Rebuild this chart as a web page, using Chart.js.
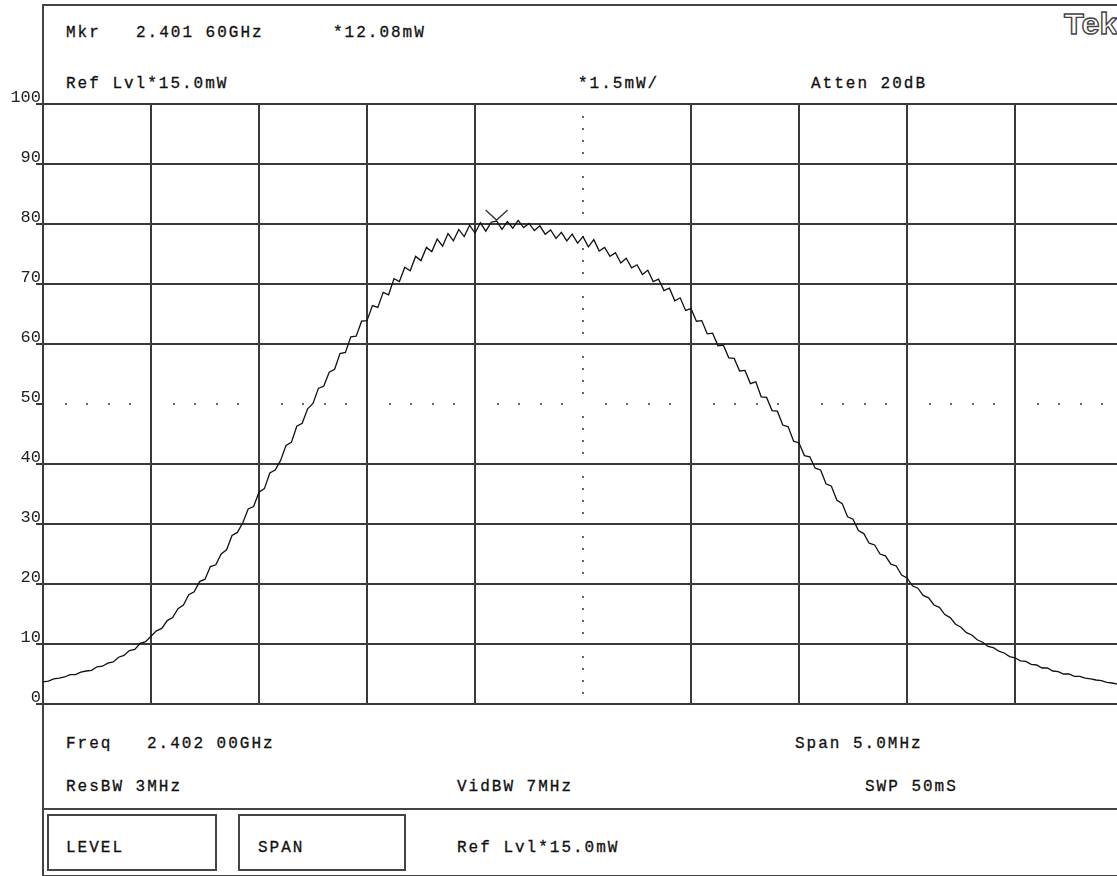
<!DOCTYPE html>
<html lang="en">
<head>
    <meta charset="UTF-8">
    <title>Tek spectrum</title>
    <style>
        html, body { margin: 0; padding: 0; background: #fff; overflow: hidden; }
        body { width: 1117px; height: 876px; position: relative; }
        .frame { position: absolute; left: 42px; top: 4px; width: 1200px; height: 869px; border: 2px solid #444; border-right: none; }
        .sep { position: absolute; left: 43px; top: 808px; width: 1200px; height: 2px; background: #444; }
        .box { position: absolute; top: 814px; height: 53px; border: 2px solid #444; }
        .txt { position: absolute; font-family: "Liberation Mono", monospace; font-size: 16px; line-height: 16px; letter-spacing: 2px; color: #111; -webkit-text-stroke: 0.3px #111; white-space: pre; }
        .tek { position: absolute; left: 1064px; top: 9px; font-family: "Liberation Sans", sans-serif; font-weight: bold; font-size: 30px; line-height: 30px; color: #fff; -webkit-text-stroke: 1.3px #444; transform: scaleX(1.08); transform-origin: left top; }
        #wrap { position: absolute; left: 0; top: 0; width: 1140px; height: 720px; }
    </style>
</head>
<body>
    <div class="frame"></div>
    <div class="sep"></div>
    <div class="box" style="left:47px; width:166px;"></div>
    <div class="box" style="left:238px; width:164px;"></div>

    <div class="txt" style="left:66px; top:25px;">Mkr</div>
    <div class="txt" style="left:136px; top:25px;">2.401 60GHz</div>
    <div class="txt" style="left:333px; top:25px;">*12.08mW</div>
    <div class="txt" style="left:66px; top:76px;">Ref Lvl*15.0mW</div>
    <div class="txt" style="left:578px; top:76px;">*1.5mW/</div>
    <div class="txt" style="left:811px; top:76px;">Atten 20dB</div>
    <div class="tek">Tek</div>

    <div class="txt" style="left:66px; top:736px;">Freq</div>
    <div class="txt" style="left:147px; top:736px;">2.402 00GHz</div>
    <div class="txt" style="left:795px; top:736px;">Span 5.0MHz</div>
    <div class="txt" style="left:66px; top:779px;">ResBW 3MHz</div>
    <div class="txt" style="left:457px; top:779px;">VidBW 7MHz</div>
    <div class="txt" style="left:865px; top:779px;">SWP 50mS</div>
    <div class="txt" style="left:66px; top:840px;">LEVEL</div>
    <div class="txt" style="left:258px; top:840px;">SPAN</div>
    <div class="txt" style="left:457px; top:840px;">Ref Lvl*15.0mW</div>

    <div id="wrap"><canvas id="trace"></canvas></div>

    <script src="https://cdn.jsdelivr.net/npm/chart.js"></script>
    <script>
        // sweep: 2.402 GHz centre, 5 MHz span, 201 trace points
        var sweepStart = 2399.5;
        var sweepStep = 0.025;
        var centerFreq = 2402;
        var spanMHz = 5;

        // level in % of ref level (15.0 mW = 100)
        var level = [
            3.7, 3.8, 4.2, 4.3, 4.5, 4.9, 4.9, 5.3, 5.5, 5.6,
            6.2, 6.3, 6.8, 7.0, 7.8, 8.1, 8.9, 9.1, 10.1, 10.4,
            11.3, 12.2, 12.6, 13.9, 14.4, 15.9, 16.5, 18.2, 18.7, 20.4,
            20.8, 22.9, 23.2, 25.0, 25.7, 28.1, 28.6, 30.2, 32.5, 32.9,
            35.3, 35.9, 38.5, 39.0, 40.6, 43.1, 43.6, 46.3, 46.8, 49.2,
            50.1, 52.6, 53.0, 55.3, 55.8, 58.4, 58.6, 61.2, 61.3, 63.8,
            63.9, 66.4, 66.1, 68.6, 68.2, 70.9, 70.4, 72.8, 72.2, 74.6,
            73.9, 76.1, 75.4, 77.5, 76.3, 78.4, 77.2, 79.1, 77.9, 79.8,
            78.5, 80.2, 78.8, 80.3, 80.5, 79.1, 80.4, 79.3, 80.6, 79.4,
            80.1, 78.9, 79.7, 78.3, 79.0, 77.6, 78.6, 77.2, 78.3, 76.8,
            77.9, 76.2, 77.4, 75.5, 76.1, 74.6, 75.2, 73.5, 74.3, 72.7,
            73.2, 71.6, 72.3, 70.4, 70.8, 68.9, 69.3, 67.2, 67.7, 65.6,
            65.9, 63.8, 63.9, 61.7, 61.8, 59.7, 59.8, 57.7, 57.6, 55.5,
            55.6, 53.4, 53.7, 51.2, 51.1, 48.9, 48.8, 46.5, 46.2, 43.8,
            43.5, 41.4, 41.2, 39.3, 39.0, 36.7, 36.3, 34.0, 33.4, 31.2,
            30.8, 28.9, 28.4, 26.8, 26.5, 25.0, 24.7, 23.3, 23.0, 21.5,
            21.0, 19.7, 19.3, 18.1, 17.7, 16.5, 16.1, 14.9, 14.4, 13.3,
            12.8, 11.9, 11.5, 10.7, 10.3, 9.6, 9.4, 8.8, 8.5, 7.9,
            7.7, 7.2, 7.1, 6.6, 6.5, 6.0, 6.0, 5.5, 5.4, 5.0,
            5.0, 4.6, 4.6, 4.3, 4.2, 4.0, 3.9, 3.6, 3.5, 3.3,
            3.2
        ];

        // marker: 2.401 60 GHz, 12.08 mW of 15.0 mW
        var markerFreq = 2401.6;
        var markerLevel = 80.5;

        var points = [];
        for (var i = 0; i < level.length; i++) {
            points.push({ x: sweepStart + i * sweepStep, y: level[i] });
        }

        var gridColor = "#3a3a3a";
        var monoFont = { family: "Liberation Mono", size: 17 };

        // dotted centre graticule lines (50 % and centre frequency)
        var dottedLines = {
            id: "dottedLines",
            beforeDatasetsDraw: function (chart) {
                var ctx = chart.ctx;
                var xs = chart.scales.x;
                var ys = chart.scales.y;
                var area = chart.chartArea;
                ctx.save();
                ctx.fillStyle = "#666";
                var y50 = Math.round(ys.getPixelForValue(50));
                var divX = (xs.getPixelForValue(sweepStart + 0.5) - xs.getPixelForValue(sweepStart)) / 5;
                for (var k = 1; k < 50; k++) {
                    if (k % 5 === 0) continue;
                    var px = area.left + k * divX;
                    ctx.fillRect(Math.round(px), y50 - 1, 2, 2);
                }
                var xc = Math.round(xs.getPixelForValue(centerFreq));
                var divY = (ys.getPixelForValue(0) - ys.getPixelForValue(10)) / 5;
                for (var j = 1; j < 50; j++) {
                    if (j % 5 === 0) continue;
                    var py = area.top + j * divY;
                    ctx.fillRect(xc - 1, Math.round(py), 2, 2);
                }
                ctx.restore();
            }
        };

        var markerGlyph = {
            id: "markerGlyph",
            afterDatasetsDraw: function (chart) {
                var ctx = chart.ctx;
                var mx = chart.scales.x.getPixelForValue(markerFreq);
                var my = chart.scales.y.getPixelForValue(markerLevel);
                ctx.save();
                ctx.strokeStyle = "#333";
                ctx.lineWidth = 1.3;
                ctx.beginPath();
                ctx.moveTo(mx - 11, my - 11);
                ctx.lineTo(mx, my - 1);
                ctx.lineTo(mx + 11, my - 11);
                ctx.stroke();
                ctx.restore();
            }
        };

        new Chart(document.getElementById("trace"), {
            type: "line",
            data: {
                datasets: [{
                    label: "Trace",
                    data: points,
                    borderColor: "#111",
                    borderWidth: 1.3,
                    pointRadius: 0,
                    tension: 0,
                    fill: false
                }]
            },
            options: {
                responsive: true,
                maintainAspectRatio: false,
                animation: false,
                layout: { padding: { top: 104, bottom: 16, left: 0, right: 17 } },
                plugins: { legend: { display: false }, tooltip: { enabled: false } },
                scales: {
                    x: {
                        type: "linear",
                        min: sweepStart,
                        max: sweepStart + spanMHz,
                        afterFit: function (s) { s.height = 0; },
                        ticks: { display: false, stepSize: 0.5 },
                        grid: {
                            drawTicks: false,
                            lineWidth: 2,
                            color: function (c) {
                                return Math.abs(c.tick.value - centerFreq) < 1e-6 ? "rgba(0,0,0,0)" : gridColor;
                            }
                        },
                        border: { display: true, color: gridColor, width: 2 }
                    },
                    y: {
                        min: 0,
                        max: 100,
                        afterFit: function (s) { s.width = 43; },
                        ticks: {
                            stepSize: 10,
                            padding: -5,
                            labelOffset: -7,
                            color: "#222",
                            font: monoFont
                        },
                        grid: {
                            tickLength: 7,
                            lineWidth: 2,
                            color: function (c) {
                                return c.tick.value === 50 ? "rgba(0,0,0,0)" : gridColor;
                            },
                            tickColor: gridColor
                        },
                        border: { display: true, color: gridColor, width: 2 }
                    }
                }
            },
            plugins: [dottedLines, markerGlyph]
        });
    </script>
</body>
</html>
